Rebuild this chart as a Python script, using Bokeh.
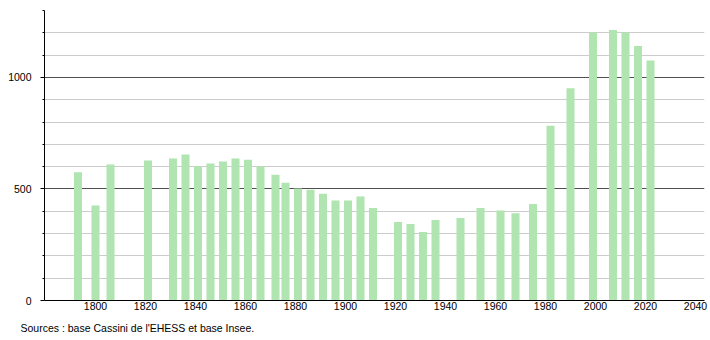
from bokeh.plotting import figure
from bokeh.models import FixedTicker, Title, Range1d
from bokeh.embed import file_html
from bokeh.resources import INLINE

years = [1793, 1800, 1806, 1821, 1831, 1836, 1841, 1846, 1851, 1856, 1861, 1866,
         1872, 1876, 1881, 1886, 1891, 1896, 1901, 1906, 1911, 1921, 1926, 1931,
         1936, 1946, 1954, 1962, 1968, 1975, 1982, 1990, 1999, 2007, 2012, 2017, 2022]
population = [575, 426, 610, 628, 637, 655, 602, 614, 623, 637, 631, 601,
              564, 528, 502, 496, 478, 448, 448, 466, 415, 352, 343, 307,
              361, 370, 415, 403, 391, 433, 783, 951, 1201, 1213, 1201, 1141, 1076]
x_ticks = [1800, 1820, 1840, 1860, 1880, 1900, 1920, 1940, 1960, 1980, 2000, 2020, 2040]
y_ticks = [0, 500, 1000]
y_minor = [100, 200, 300, 400, 600, 700, 800, 900, 1100, 1200, 1300]
source_text = "Sources : base Cassini de l'EHESS et base Insee."

FONT = "Liberation Sans"

p = figure(frame_width=660, frame_height=290, output_backend="svg", toolbar_location=None,
           x_range=Range1d(1779.6, 2043.6), y_range=Range1d(0, 1300),
           min_border_left=44, min_border_right=6, min_border_top=10, min_border_bottom=0)
p.outline_line_color = None
p.background_fill_color = "white"
p.border_fill_color = "white"

p.vbar(x=years, top=population, width=3.2, bottom=0,
       fill_color="#b0e4b0", line_color=None)

# y axis
p.yaxis.ticker = FixedTicker(ticks=y_ticks, minor_ticks=y_minor)
p.yaxis.axis_line_color = "black"
p.yaxis.major_tick_out = 4
p.yaxis.major_tick_in = 0
p.yaxis.minor_tick_out = 2
p.yaxis.minor_tick_in = 0
p.yaxis.major_tick_line_color = "black"
p.yaxis.minor_tick_line_color = "black"
p.yaxis.major_label_standoff = 9
p.yaxis.major_label_text_font = FONT
p.yaxis.major_label_text_font_size = "10.5px"
p.yaxis.major_label_text_color = "black"

# x axis
p.xaxis.ticker = FixedTicker(ticks=x_ticks)
p.xaxis.axis_line_color = "black"
p.xaxis.major_tick_line_color = None
p.xaxis.minor_tick_line_color = None
p.xaxis.major_tick_out = 0
p.xaxis.major_tick_in = 0
p.xaxis.major_label_standoff = 1
p.xaxis.major_label_text_font = FONT
p.xaxis.major_label_text_font_size = "10.5px"
p.xaxis.major_label_text_color = "black"

# grids
p.xgrid.grid_line_color = None
p.ygrid.ticker = FixedTicker(ticks=y_ticks, minor_ticks=y_minor)
p.ygrid.grid_line_color = "#505050"
p.ygrid.grid_line_width = 1
p.ygrid.minor_grid_line_color = "#cccccc"
p.ygrid.minor_grid_line_width = 1

p.add_layout(Title(text=source_text, align="left", offset=-24,
                   text_font=FONT, text_font_size="10.5px",
                   text_font_style="normal", text_color="black",
                   standoff=14), "below")

open("out.html", "w").write(file_html(p, INLINE))
